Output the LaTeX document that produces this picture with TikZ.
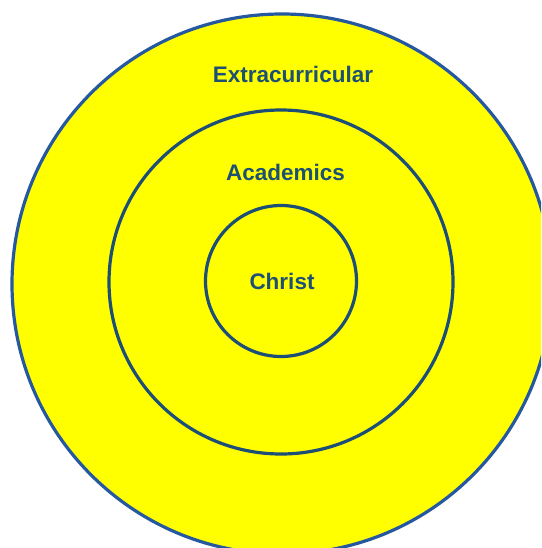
\documentclass[tikz,border=0pt]{standalone}
\usepackage{fontspec}
\setmainfont{Liberation Sans}
\definecolor{ringblue}{RGB}{38,88,160}
\definecolor{innerblue}{RGB}{28,78,118}
\definecolor{labelblue}{RGB}{30,80,115}
\definecolor{fillyellow}{RGB}{255,255,0}
\begin{document}
\begin{tikzpicture}[x=1pt,y=-1pt,
  ring/.style={circle,draw=innerblue,line width=3.2pt,fill=fillyellow,inner sep=0pt},
  label/.style={font=\bfseries\fontsize{22.5}{27}\selectfont,text=labelblue,inner sep=0pt,anchor=base}]
\useasboundingbox (0,0) rectangle (541,548);
\clip (0,0) rectangle (541,548);
\node[ring,draw=ringblue,minimum size=540pt] (outer) at (282,284) {};
\node[ring,minimum size=344pt] (middle) at (281,282) {};
\node[ring,minimum size=151pt] (inner) at (281,281) {};
\node[label] (extra) at (293,82.5) {Extracurricular};
\node[label] (acad) at (285.5,180) {Academics};
\node[label] (christ) at (282,289) {Christ};
\end{tikzpicture}
\end{document}
